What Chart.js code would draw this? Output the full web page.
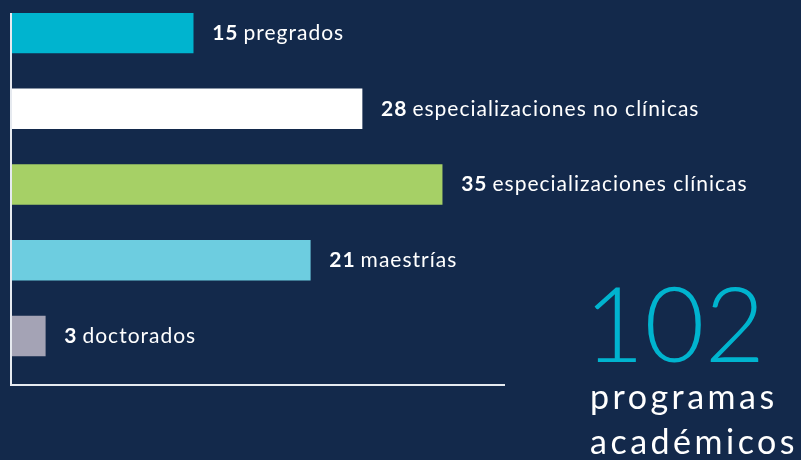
<!DOCTYPE html>
<html>
<head>
  <meta charset="UTF-8">
  <title>Programas académicos</title>
  <script src="https://cdn.jsdelivr.net/npm/chart.js@4/dist/chart.umd.min.js"></script>
  <style>
    html, body { margin: 0; padding: 0; background: #13294b; }
    #wrap { position: relative; width: 801px; height: 460px; overflow: hidden; }
    #total { position: absolute; left: 584px; top: 270px; font: 300 104px Lato; color: #00b4cf; line-height: 1; }
    #caption { position: absolute; left: 590px; top: 373px; font: 400 34px Lato; color: #ffffff; line-height: 45px; letter-spacing: 3.5px; white-space: nowrap; }
  </style>
</head>
<body>
  <div id="wrap">
    <canvas id="programsChart" width="801" height="460"></canvas>
    <div id="total"></div>
    <div id="caption">programas<br>académicos</div>
  </div>

  <script>
    // Program types and how many of each
    const programNames = ["pregrados", "especializaciones no clínicas", "especializaciones clínicas", "maestrías", "doctorados"];
    const programCounts = [15, 28, 35, 21, 3];
    // Bar lengths as drawn in the picture (same units as the counts)
    const barLengths = [14.7, 28.4, 34.9, 24.2, 2.7];
    const barColors = ["#00b4cf", "#ffffff", "#a6d066", "#6dcde0", "#a4a3b5"];

    document.getElementById("total").textContent = programCounts.reduce((a, b) => a + b, 0);

    // Axis lines (left and bottom)
    const axisLines = {
      id: "axisLines",
      beforeDatasetsDraw(chart) {
        const { ctx, chartArea } = chart;
        ctx.save();
        ctx.strokeStyle = "#e6eaf0";
        ctx.lineWidth = 2;
        ctx.beginPath();
        ctx.moveTo(chartArea.left - 1, chartArea.top);
        ctx.lineTo(chartArea.left - 1, chartArea.bottom);
        ctx.lineTo(chartArea.right, chartArea.bottom);
        ctx.stroke();
        ctx.restore();
      }
    };

    // "15 pregrados" style labels after each bar
    const barLabels = {
      id: "barLabels",
      afterDatasetsDraw(chart) {
        const { ctx } = chart;
        const meta = chart.getDatasetMeta(0);
        ctx.save();
        ctx.fillStyle = "#ffffff";
        ctx.textBaseline = "alphabetic";
        ctx.letterSpacing = "1px";
        meta.data.forEach((bar, i) => {
          let x = bar.x + 19;
          const y = bar.y + 7;
          ctx.font = "700 21px Lato";
          const num = String(programCounts[i]);
          ctx.fillText(num, x, y);
          x += ctx.measureText(num).width + 5;
          ctx.font = "400 21px Lato";
          ctx.fillText(programNames[i], x, y);
        });
        ctx.restore();
      }
    };

    new Chart(document.getElementById("programsChart").getContext("2d"), {
      type: "bar",
      data: {
        datasets: [{
          data: barLengths.map((v, i) => ({ x: v, y: i })),
          backgroundColor: barColors,
          borderWidth: 0,
          barThickness: 40
        }]
      },
      options: {
        indexAxis: "y",
        responsive: false,
        animation: false,
        layout: { padding: { left: 12, right: 296, top: 13, bottom: 75 } },
        scales: {
          x: { type: "linear", min: 0, max: 40, display: false },
          y: { type: "linear", min: -0.264, max: 4.647, reverse: true, offset: false, display: false }
        },
        plugins: {
          legend: { display: false },
          tooltip: { enabled: false }
        }
      },
      plugins: [axisLines, barLabels]
    });
  </script>
</body>
</html>
